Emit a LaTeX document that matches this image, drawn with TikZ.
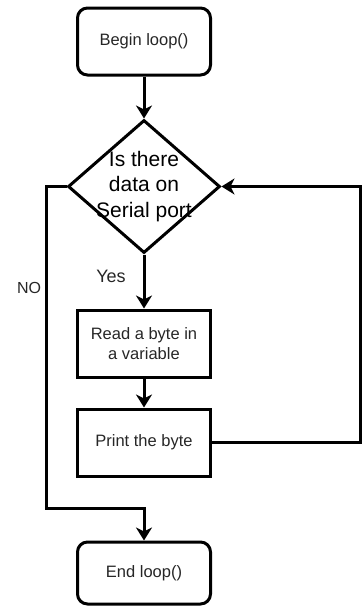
\documentclass[tikz,border=0pt]{standalone}
\usepackage{fontspec}
\setmainfont{Liberation Sans}
\usetikzlibrary{arrows.meta,shapes.geometric}

\begin{document}
\begin{tikzpicture}[x=1pt,y=-1pt,line width=3pt,
    box/.style={draw,minimum width=133pt,minimum height=67pt,inner sep=0pt,
      align=center,text=black!85,font=\fontsize{16.5}{20}\selectfont},
    rbox/.style={box,rounded corners=10pt},
    decision/.style={draw,diamond,minimum width=152pt,minimum height=133pt,inner sep=0pt},
    arr/.style={-{Stealth[length=13pt,width=16pt,inset=4pt]}},
    lbl/.style={text=black!85,inner sep=0pt}]
    \useasboundingbox (0,0) rectangle (362,606);
    \node[rbox] (begin) at (144,41.5) {Begin loop()};
    \node[decision] (dec) at (144,186.5) {};
    \node[align=center,inner sep=0pt,font=\fontsize{21}{25.5}\selectfont] (dectxt) at (dec) {Is there\\data on\\Serial port};
    \node[box] (read) at (144,343.5) {Read a byte in\\a variable};
    \node[box] (print) at (144,442.5) {Print the byte};
    \node[rbox,minimum height=62pt] (end) at (144,573) {End loop()};
    \coordinate (rt) at (360,186.5);% retour vers le test
    \coordinate (lft) at (46,508);% sortie NO
    \draw[arr] (begin) -- (dec);
    \draw[arr] (dec) -- (read);
    \draw[arr] (read) -- (print);
    \draw[arr] (print.east) -| (rt) -- (dec.east);
    \draw[arr] (dec.west) -| (lft) -| (end.north);
    \node[lbl,font=\fontsize{18}{20}\selectfont] (yes) at (111,276) {Yes};
    \node[lbl,font=\fontsize{16}{18}\selectfont] (no) at (29,288) {NO};
\end{tikzpicture}
\end{document}
